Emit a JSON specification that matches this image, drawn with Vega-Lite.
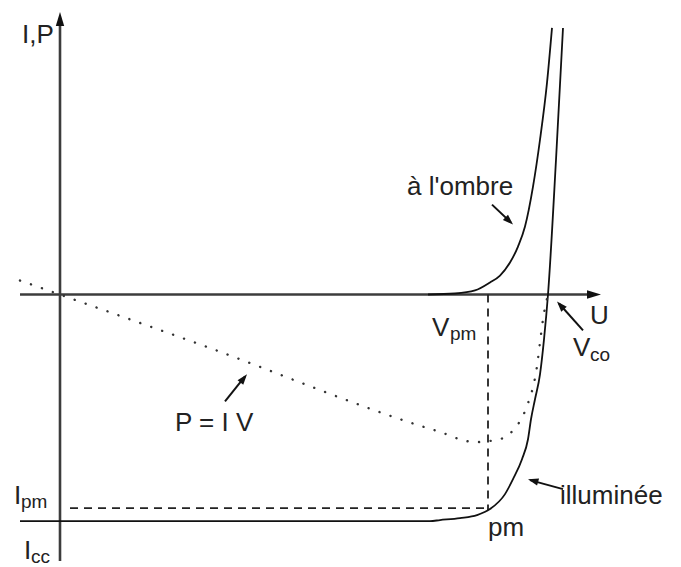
{
  "$schema": "https://vega.github.io/schema/vega-lite/v6.json",
  "width": 681,
  "height": 567,
  "autosize": {"type": "fit", "contains": "padding"},
  "padding": 0,
  "background": "white",
  "config": {"view": {"stroke": null}},
  "datasets": {
    "curves": [
      {"s": "ill", "U": -40, "I": -227},
      {"s": "ill", "U": 370, "I": -227},
      {"s": "ill", "U": 380, "I": -226},
      {"s": "ill", "U": 400, "I": -224},
      {"s": "ill", "U": 417, "I": -221},
      {"s": "ill", "U": 430, "I": -215},
      {"s": "ill", "U": 445, "I": -200},
      {"s": "ill", "U": 453, "I": -185},
      {"s": "ill", "U": 462, "I": -165},
      {"s": "ill", "U": 468, "I": -145},
      {"s": "ill", "U": 471, "I": -125},
      {"s": "ill", "U": 475, "I": -105},
      {"s": "ill", "U": 480, "I": -80},
      {"s": "ill", "U": 484, "I": -45},
      {"s": "ill", "U": 488, "I": 0},
      {"s": "ill", "U": 496, "I": 135},
      {"s": "ill", "U": 503, "I": 267},
      {"s": "dark", "U": 368, "I": 0},
      {"s": "dark", "U": 395, "I": 1},
      {"s": "dark", "U": 415, "I": 4},
      {"s": "dark", "U": 430, "I": 12},
      {"s": "dark", "U": 440, "I": 19},
      {"s": "dark", "U": 450, "I": 32},
      {"s": "dark", "U": 458, "I": 48},
      {"s": "dark", "U": 465, "I": 68},
      {"s": "dark", "U": 473, "I": 108},
      {"s": "dark", "U": 480, "I": 155},
      {"s": "dark", "U": 487, "I": 212},
      {"s": "dark", "U": 492, "I": 267},
      {"s": "P", "U": -40, "I": 14},
      {"s": "P", "U": 140, "I": -50},
      {"s": "P", "U": 368, "I": -134},
      {"s": "P", "U": 381, "I": -138},
      {"s": "P", "U": 403, "I": -146},
      {"s": "P", "U": 415, "I": -148},
      {"s": "P", "U": 427, "I": -147},
      {"s": "P", "U": 440, "I": -145},
      {"s": "P", "U": 449, "I": -140},
      {"s": "P", "U": 458, "I": -130},
      {"s": "P", "U": 465, "I": -117},
      {"s": "P", "U": 470, "I": -103},
      {"s": "P", "U": 473, "I": -93},
      {"s": "P", "U": 477, "I": -72},
      {"s": "P", "U": 480, "I": -48},
      {"s": "P", "U": 483, "I": -25},
      {"s": "P", "U": 488, "I": 0}
    ],
    "segments": [
      {"k": "axis", "U": -40, "I": 0, "U2": 536, "I2": 0},
      {"k": "axis", "U": 0, "I": -267, "U2": 0, "I2": 276},
      {"k": "dash", "U": 428, "I": 0, "U2": 428, "I2": -216},
      {"k": "dash", "U": 10, "I": -214, "U2": 428, "I2": -214},
      {"k": "ptr", "U": 165, "I": -107, "U2": 185, "I2": -82},
      {"k": "ptr", "U": 432, "I": 90, "U2": 451, "I2": 72},
      {"k": "ptr", "U": 503, "I": -195, "U2": 470, "I2": -186},
      {"k": "ptr", "U": 523, "I": -36, "U2": 499, "I2": -9}
    ],
    "heads": [
      {"h": "x", "U": 541, "I": 0},
      {"h": "y", "U": 0, "I": 283},
      {"h": "piv", "U": 187, "I": -80},
      {"h": "ombre", "U": 453, "I": 70},
      {"h": "ill", "U": 468, "I": -185},
      {"h": "vco", "U": 497, "I": -7}
    ],
    "labels": [
      {"t": "I,P", "U": -38, "I": 252},
      {"t": "U", "U": 530, "I": -30},
      {"t": "V", "U": 372, "I": -42},
      {"t": "V", "U": 513, "I": -62},
      {"t": "P = I V", "U": 115, "I": -137},
      {"t": "à l'ombre", "U": 347, "I": 100},
      {"t": "illuminée", "U": 500, "I": -210},
      {"t": "pm", "U": 428, "I": -242},
      {"t": "I", "U": -46, "I": -210},
      {"t": "I", "U": -36, "I": -265}
    ],
    "subs": [
      {"t": "pm", "U": 390, "I": -46},
      {"t": "co", "U": 530, "I": -67},
      {"t": "pm", "U": -39, "I": -214},
      {"t": "cc", "U": -29, "I": -269}
    ]
  },
  "encoding": {
    "x": {"field": "U", "type": "quantitative", "scale": {"domain": [-60, 621], "nice": false, "zero": false}, "axis": null},
    "y": {"field": "I", "type": "quantitative", "scale": {"domain": [-272, 295], "nice": false, "zero": false}, "axis": null}
  },
  "layer": [
    {
      "data": {"name": "segments"},
      "transform": [{"filter": "datum.k === 'axis'"}],
      "mark": {"type": "rule", "stroke": "#3c3c3c", "strokeWidth": 2.6},
      "encoding": {"x2": {"field": "U2"}, "y2": {"field": "I2"}}
    },
    {
      "data": {"name": "segments"},
      "transform": [{"filter": "datum.k === 'dash'"}],
      "mark": {"type": "rule", "stroke": "#222", "strokeWidth": 1.8, "strokeDash": [8, 6]},
      "encoding": {"x2": {"field": "U2"}, "y2": {"field": "I2"}}
    },
    {
      "data": {"name": "segments"},
      "transform": [{"filter": "datum.k === 'ptr'"}],
      "mark": {"type": "rule", "stroke": "#111", "strokeWidth": 2},
      "encoding": {"x2": {"field": "U2"}, "y2": {"field": "I2"}}
    },
    {
      "data": {"name": "curves"},
      "transform": [{"filter": "datum.s === 'ill'"}],
      "mark": {"type": "line", "stroke": "#111", "strokeWidth": 1.8, "interpolate": "monotone"}
    },
    {
      "data": {"name": "curves"},
      "transform": [{"filter": "datum.s === 'dark'"}],
      "mark": {"type": "line", "stroke": "#111", "strokeWidth": 1.8, "interpolate": "monotone"}
    },
    {
      "data": {"name": "curves"},
      "transform": [{"filter": "datum.s === 'P'"}],
      "mark": {"type": "line", "stroke": "#333", "strokeWidth": 2.4, "strokeDash": [0.1, 11.5], "strokeCap": "round", "interpolate": "monotone"}
    },
    {
      "data": {"name": "heads"},
      "transform": [{"filter": "datum.h === 'x'"}],
      "mark": {"type": "point", "shape": "M0,0L0.6,2L-0.6,2Z", "filled": true, "opacity": 1, "color": "#111", "size": 196, "angle": 90}
    },
    {
      "data": {"name": "heads"},
      "transform": [{"filter": "datum.h === 'y'"}],
      "mark": {"type": "point", "shape": "M0,0L0.6,2L-0.6,2Z", "filled": true, "opacity": 1, "color": "#111", "size": 196, "angle": 0}
    },
    {
      "data": {"name": "heads"},
      "transform": [{"filter": "datum.h === 'piv'"}],
      "mark": {"type": "point", "shape": "M0,0L0.7,2L-0.7,2Z", "filled": true, "opacity": 1, "color": "#111", "size": 110, "angle": 39}
    },
    {
      "data": {"name": "heads"},
      "transform": [{"filter": "datum.h === 'ombre'"}],
      "mark": {"type": "point", "shape": "M0,0L0.7,2L-0.7,2Z", "filled": true, "opacity": 1, "color": "#111", "size": 110, "angle": 134}
    },
    {
      "data": {"name": "heads"},
      "transform": [{"filter": "datum.h === 'ill'"}],
      "mark": {"type": "point", "shape": "M0,0L0.7,2L-0.7,2Z", "filled": true, "opacity": 1, "color": "#111", "size": 110, "angle": 286}
    },
    {
      "data": {"name": "heads"},
      "transform": [{"filter": "datum.h === 'vco'"}],
      "mark": {"type": "point", "shape": "M0,0L0.7,2L-0.7,2Z", "filled": true, "opacity": 1, "color": "#111", "size": 110, "angle": 318}
    },
    {
      "data": {"name": "labels"},
      "mark": {"type": "text", "align": "left", "baseline": "alphabetic", "font": "Liberation Sans", "fontSize": 26, "color": "#222"},
      "encoding": {"text": {"field": "t"}}
    },
    {
      "data": {"name": "subs"},
      "mark": {"type": "text", "align": "left", "baseline": "alphabetic", "font": "Liberation Sans", "fontSize": 19, "color": "#222"},
      "encoding": {"text": {"field": "t"}}
    }
  ]
}
